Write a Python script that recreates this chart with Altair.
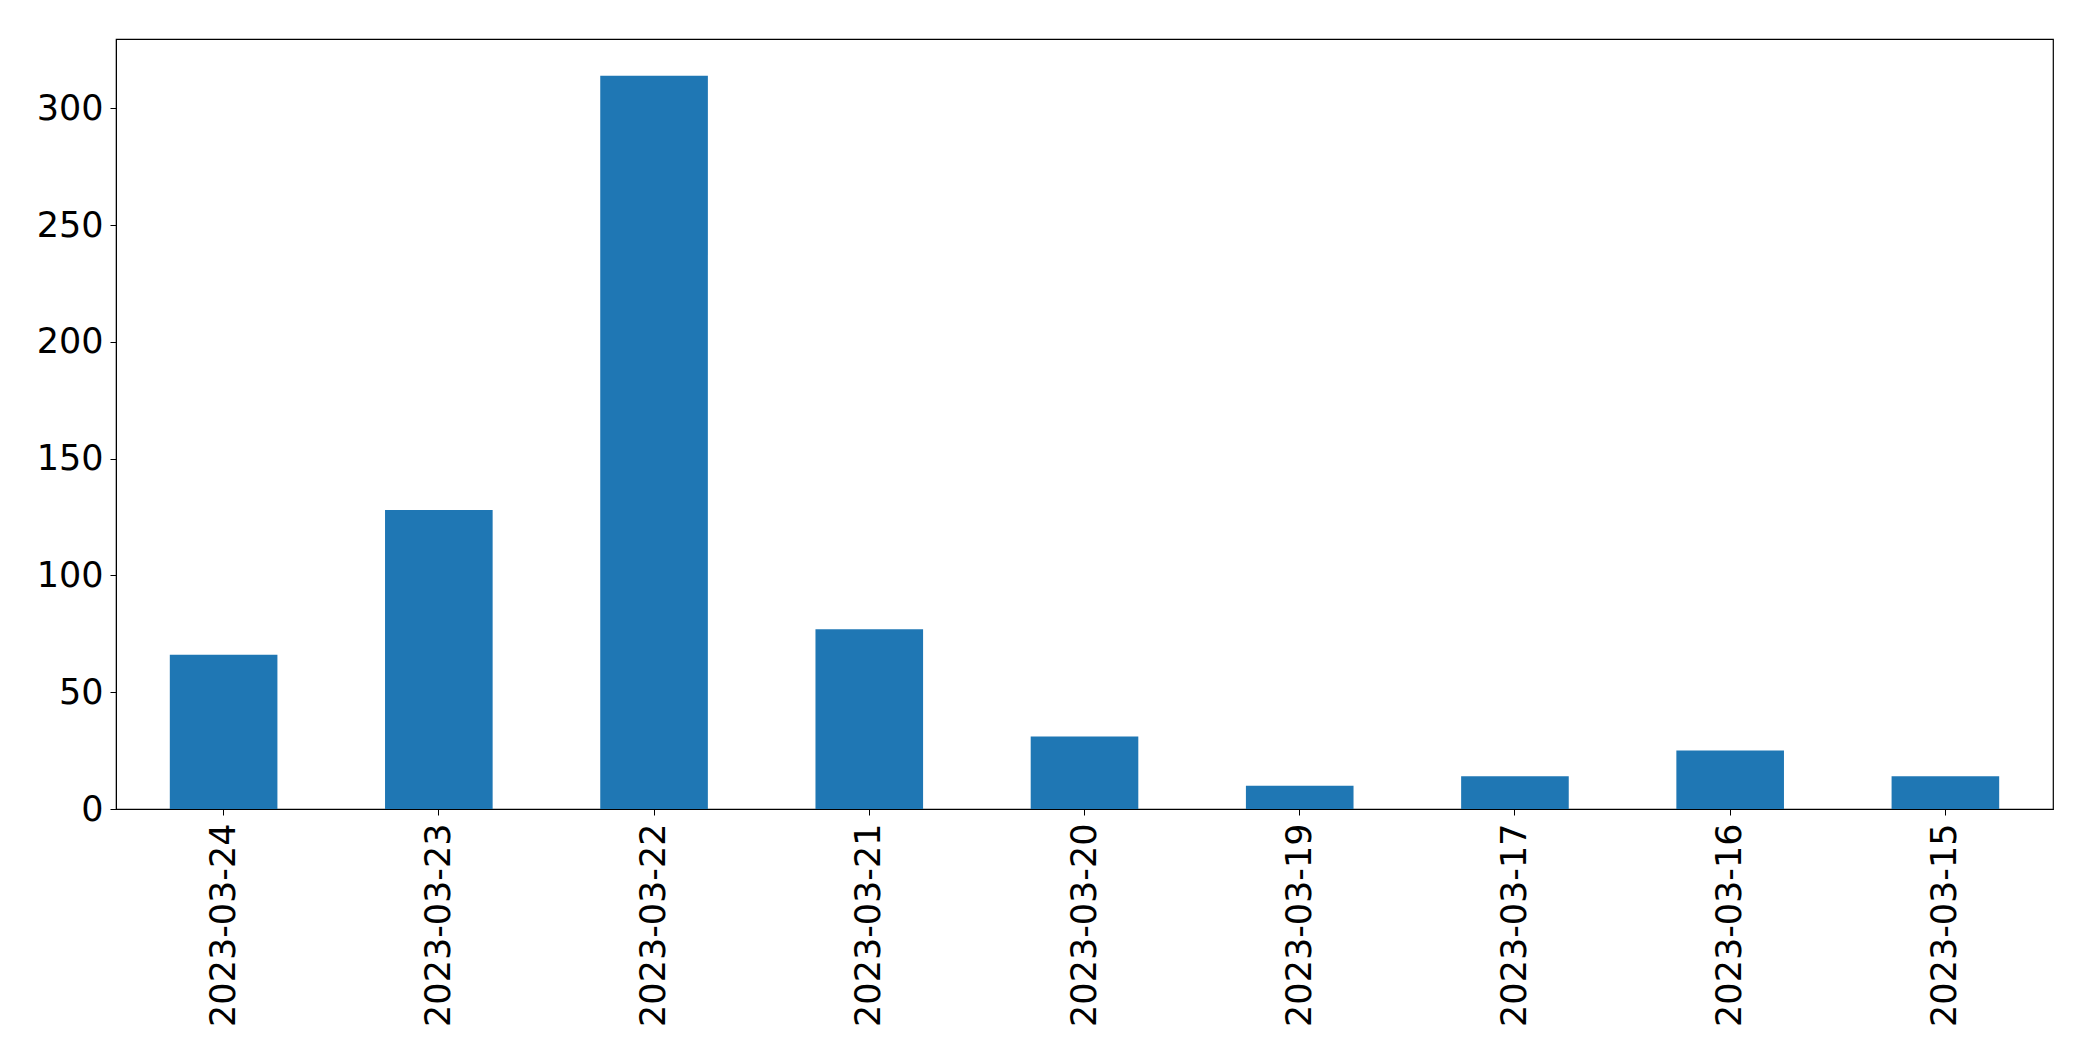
import altair as alt
import pandas as pd

dates = ["2023-03-24", "2023-03-23", "2023-03-22", "2023-03-21", "2023-03-20",
         "2023-03-19", "2023-03-17", "2023-03-16", "2023-03-15"]
counts = [66, 128, 314, 77, 31, 10, 14, 25, 14]

df = pd.DataFrame({"date": dates, "count": counts})

chart = alt.Chart(df).mark_bar(color="#1f77b4").encode(
    x=alt.X("date:N", sort=None, title=None,
            scale=alt.Scale(paddingInner=0.5, paddingOuter=0.25),
            axis=alt.Axis(labelAngle=270, labelFontSize=35, labelFont="DejaVu Sans",
                          labelColor="black", tickColor="black", tickSize=6,
                          labelPadding=8, domainColor="black", labelLimit=0)),
    y=alt.Y("count:Q", title=None,
            scale=alt.Scale(domain=[0, 329.7], nice=False, zero=True),
            axis=alt.Axis(values=[0, 50, 100, 150, 200, 250, 300], grid=False,
                          labelFontSize=35, labelFont="DejaVu Sans", labelColor="black",
                          tickColor="black", tickSize=6, labelPadding=7,
                          domainColor="black")),
).properties(
    width=1937, height=770,
    autosize=alt.AutoSizeParams(type="none"),
    padding={"left": 108, "top": 31, "right": 32, "bottom": 244},
).configure_view(stroke="black", strokeWidth=1.2)

chart.save("out.html", embed_options={"renderer": "svg", "actions": False})
